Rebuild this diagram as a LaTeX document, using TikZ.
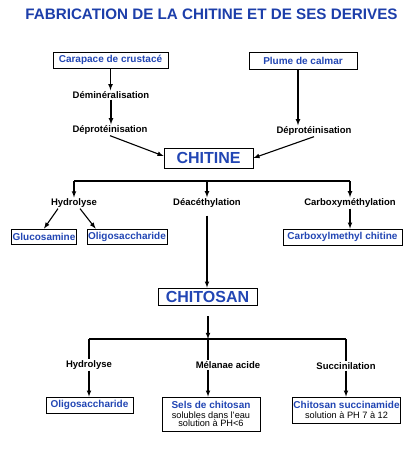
\documentclass[tikz,border=0pt]{standalone}
\usepackage{fontspec}
\setmainfont{Liberation Sans}
\usetikzlibrary{arrows,shadows}
\definecolor{titleblue}{RGB}{28, 62, 170}
\definecolor{boxblue}{RGB}{34, 70, 180}
\newcommand{\notefont}{\color{black}\mdseries\fontsize{9.2}{10}\selectfont}

\begin{document}
\begin{tikzpicture}[x=1pt, y=-1pt,
        font=\bfseries\fontsize{9.5}{11}\selectfont,
        box/.style={draw, line width=0.8pt, fill=white, inner sep=1pt, text=boxblue,
                    font=\bfseries\fontsize{10}{11}\selectfont,
                    drop shadow={shadow xshift=0.9pt, shadow yshift=-0.9pt, fill=black!75, opacity=1}},
        bigbox/.style={box, font=\bfseries\fontsize{16}{18}\selectfont},
        proc/.style={inner sep=1pt},
        arr/.style={-latex, line width=1.1pt},
        link/.style={line width=1.1pt}]
            \useasboundingbox (0,0) rectangle (413,449);
            % Title
            \node[font=\bfseries\fontsize{15.2}{17}\selectfont, text=titleblue] (title) at (211.5, 14) {FABRICATION DE LA CHITINE ET DE SES DERIVES};
            % Sources
            \node[box, minimum width=115, minimum height=16] (carapace) at (110.5,  60.0) {Carapace de crustacé};
            \node[box, minimum width=108, minimum height=17] (plume)    at (303.0,  60.5) {Plume de calmar};
            \node[proc]                                        (demin)    at (111.0,  95.0) {Déminéralisation};
            \node[proc]                                        (deprotA)  at (110.0, 130.0) {Déprotéinisation};
            \node[proc]                                        (deprotB)  at (314.0, 131.0) {Déprotéinisation};
            \node[bigbox, minimum width=89, minimum height=20] (chitine)  at (208.5, 158.0) {CHITINE};
            \draw[arr] (carapace.south) -- (carapace.south |- demin.north);
            \draw[arr] (demin.south)    -- (demin.south |- deprotA.north);
            \draw[arr] ([xshift=-5pt]plume.south) -- ([xshift=-5pt]plume.south |- deprotB.north);
            \draw[arr] (deprotA.south)  -- ([yshift=2pt]chitine.west);
            \draw[arr] (deprotB.south)  -- (chitine.east);
            % Chitine derivatives
            \coordinate (forkA) at (207, 181);
            \node[proc]                                        (hydA)     at ( 74.0, 203.0) {Hydrolyse};
            \node[proc]                                        (deac)     at (207.0, 203.0) {Déacéthylation};
            \node[proc]                                        (carboxA)  at (350.0, 203.0) {Carboxyméthylation};
            \node[box, minimum width=62, minimum height=15]  (gluco)    at ( 44.0, 236.5) {Glucosamine};
            \node[box, minimum width=80, minimum height=15]  (oligoA)   at (127.0, 236.5) {Oligosaccharide};
            \node[box, minimum width=119, minimum height=16] (carbox)   at (342.5, 237.0) {Carboxylmethyl chitine};
            \draw[link] (hydA.north |- forkA) -- (carboxA.north |- forkA);
            \draw[arr]  (hydA.north |- forkA) -- (hydA.north);
            \draw[arr]  (forkA) -- (deac.north);
            \draw[arr]  (carboxA.north |- forkA) -- (carboxA.north);
            \draw[arr]  ([xshift=-16pt]hydA.south) -- (gluco.north);
            \draw[arr]  ([xshift=6pt]hydA.south) -- ([xshift=9pt]oligoA.north west);
            \draw[arr]  (carboxA.south) -- (carboxA.south |- carbox.north);
            % Chitosan
            \node[bigbox, minimum width=99, minimum height=17] (chitosan) at (207.5, 296.5) {CHITOSAN};
            \draw[arr, shorten <=7pt] (deac.south) -- (deac.south |- chitosan.north);
            % Chitosan derivatives
            \coordinate (forkB) at (208, 339);
            \node[proc]                                        (hydB)     at ( 89.0, 365.0) {Hydrolyse};
            \node[proc]                                        (melan)    at (228.0, 365.0) {Mélanae acide};
            \node[proc]                                        (succ)     at (346.0, 366.0) {Succinilation};
            \node[box, minimum width=87, minimum height=16]  (oligoB)   at ( 89.5, 405.0) {Oligosaccharide};
            \node[box, minimum width=98, minimum height=34, align=center] (sels) at (211.0, 414.0)
                 {Sels de chitosan\\[-1.5pt]{\notefont solubles dans l'eau}\\[-2.5pt]{\notefont solution à PH<6}};
            \node[box, minimum width=107, minimum height=26, align=center] (succam) at (346.5, 410.0)
                 {Chitosan succinamide\\[-0.5pt]{\notefont solution à PH 7 à 12}};
            \draw[arr, shorten <=11pt] ([xshift=0.5pt]chitosan.south) -- (forkB);
            \draw[link] (hydB.north |- forkB) -- (succ.north |- forkB);
            \draw[link] (hydB.north |- forkB) -- (hydB.north);
            \draw[link] (forkB) -- (forkB |- melan.north);
            \draw[link] (succ.north |- forkB) -- (succ.north);
            \draw[arr]  (hydB.south) -- (hydB.south |- oligoB.north);
            \draw[arr]  (forkB |- melan.south) -- (forkB |- sels.north);
            \draw[arr]  (succ.south) -- (succ.south |- succam.north);
\end{tikzpicture}
\end{document}
